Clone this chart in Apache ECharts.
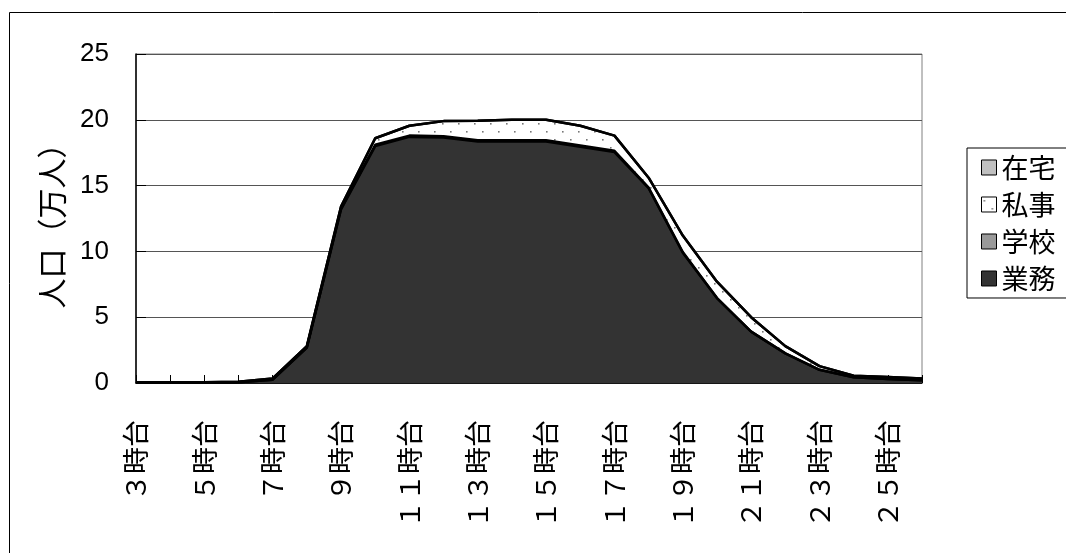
<!DOCTYPE html>
<html>
<head>
<meta charset="utf-8">
<script src="https://cdn.jsdelivr.net/npm/echarts@6/dist/echarts.min.js"></script>
<style>
html,body{margin:0;padding:0;background:#fff;}
#main{width:1066px;height:553px;}
</style>
</head>
<body>
<div id="main"></div>
<script>
const hours = ['３時台','４時台','５時台','６時台','７時台','８時台','９時台','１０時台','１１時台','１２時台','１３時台','１４時台','１５時台','１６時台','１７時台','１８時台','１９時台','２０時台','２１時台','２２時台','２３時台','２４時台','２５時台','２６時台'];
const seriesNames = ['業務','学校','私事','在宅'];
const gyomu   = [0.02,0.02,0.02,0.05,0.25,2.7,13.2,18.0,18.7,18.65,18.35,18.35,18.35,17.95,17.55,14.8,9.9,6.45,3.9,2.25,1.0,0.43,0.3,0.2];
const gakko   = [0,0,0,0,0,0,0.05,0.1,0.1,0.1,0.1,0.1,0.1,0.1,0.1,0.05,0.05,0,0,0,0,0,0,0];
const shiji   = [0.03,0.03,0.03,0.05,0.1,0.1,0.15,0.5,0.75,1.15,1.48,1.55,1.55,1.5,1.15,0.75,1.25,1.25,1.1,0.55,0.28,0.12,0.15,0.15];
const zaitaku = [0,0,0,0,0,0,0,0,0,0,0,0,0,0,0,0,0,0,0,0,0,0,0,0];
const yTicks = [0,5,10,15,20,25];

function dotPattern(){
  const c = document.createElement('canvas');
  c.width = 16; c.height = 16;
  const g = c.getContext('2d');
  g.fillStyle = '#ffffff'; g.fillRect(0,0,16,16);
  g.fillStyle = '#777777';
  g.fillRect(2,3,1.6,1.6);
  g.fillRect(10,11,1.6,1.6);
  return {image:c, repeat:'repeat'};
}
function stripePattern(){
  const c = document.createElement('canvas');
  c.width = 2; c.height = 2;
  const g = c.getContext('2d');
  g.fillStyle = '#ffffff'; g.fillRect(0,0,2,2);
  g.fillStyle = '#333333'; g.fillRect(0,0,1,2);
  return {image:c, repeat:'repeat'};
}
const fills = {
  '業務':'#333333',
  '学校':stripePattern(),
  '私事':dotPattern(),
  '在宅':'#c0c0c0'
};
const dataMap = {'業務':gyomu,'学校':gakko,'私事':shiji,'在宅':zaitaku};

const chart = echarts.init(document.getElementById('main'));
const cjk = '"Noto Sans CJK JP", sans-serif';
chart.setOption({
  backgroundColor:'#ffffff',
  animation:false,
  graphic:[{
    type:'rect',
    shape:{x:9.5,y:12.5,width:1100,height:600},
    style:{fill:null,stroke:'#000',lineWidth:1},
    z:-1
  }],
  grid:{left:136,top:54,right:144,bottom:170,show:true,borderColor:'#808080',borderWidth:1},
  legend:{
    orient:'vertical',
    left:967, top:148,
    padding:[6,20,6,14],
    itemGap:10,
    itemWidth:15, itemHeight:15,
    icon:'rect',
    backgroundColor:'#ffffff',
    borderColor:'#000', borderWidth:1, borderRadius:0,
    textStyle:{fontSize:27,color:'#000',fontFamily:cjk},
    data:['在宅','私事','学校','業務'].map(n=>({name:n,itemStyle:{color:fills[n],borderColor:'#000',borderWidth:1}}))
  },
  xAxis:{
    type:'category',
    data:hours,
    boundaryGap:false,
    axisLine:{lineStyle:{color:'#000',width:1.5}},
    axisTick:{show:true,inside:true,length:8,interval:0,lineStyle:{color:'#000'}},
    axisLabel:{interval:1,rotate:90,fontSize:27,color:'#000',fontFamily:cjk,margin:37},
    splitLine:{show:false}
  },
  yAxis:{
    type:'value',
    min:yTicks[0], max:yTicks[yTicks.length-1], interval:5,
    name:'人口（万人）',
    nameLocation:'middle',
    nameRotate:90,
    nameGap:69,
    nameTextStyle:{fontSize:30,color:'#000',fontFamily:cjk},
    axisLine:{show:true,lineStyle:{color:'#000',width:1.5}},
    axisTick:{show:true,inside:true,length:10,lineStyle:{color:'#000'}},
    axisLabel:{fontSize:26,color:'#000',fontFamily:'"Liberation Sans", Arial, sans-serif',margin:27},
    splitLine:{show:true,lineStyle:{color:'#555',width:1}}
  },
  series:seriesNames.map(n=>({
    name:n,
    type:'line',
    stack:'total',
    data:dataMap[n],
    symbol:'none',
    itemStyle:{color:fills[n]},
    lineStyle:{color:'#000',width:2.5},
    areaStyle:{color:fills[n],opacity:1}
  }))
});
</script>
</body>
</html>
